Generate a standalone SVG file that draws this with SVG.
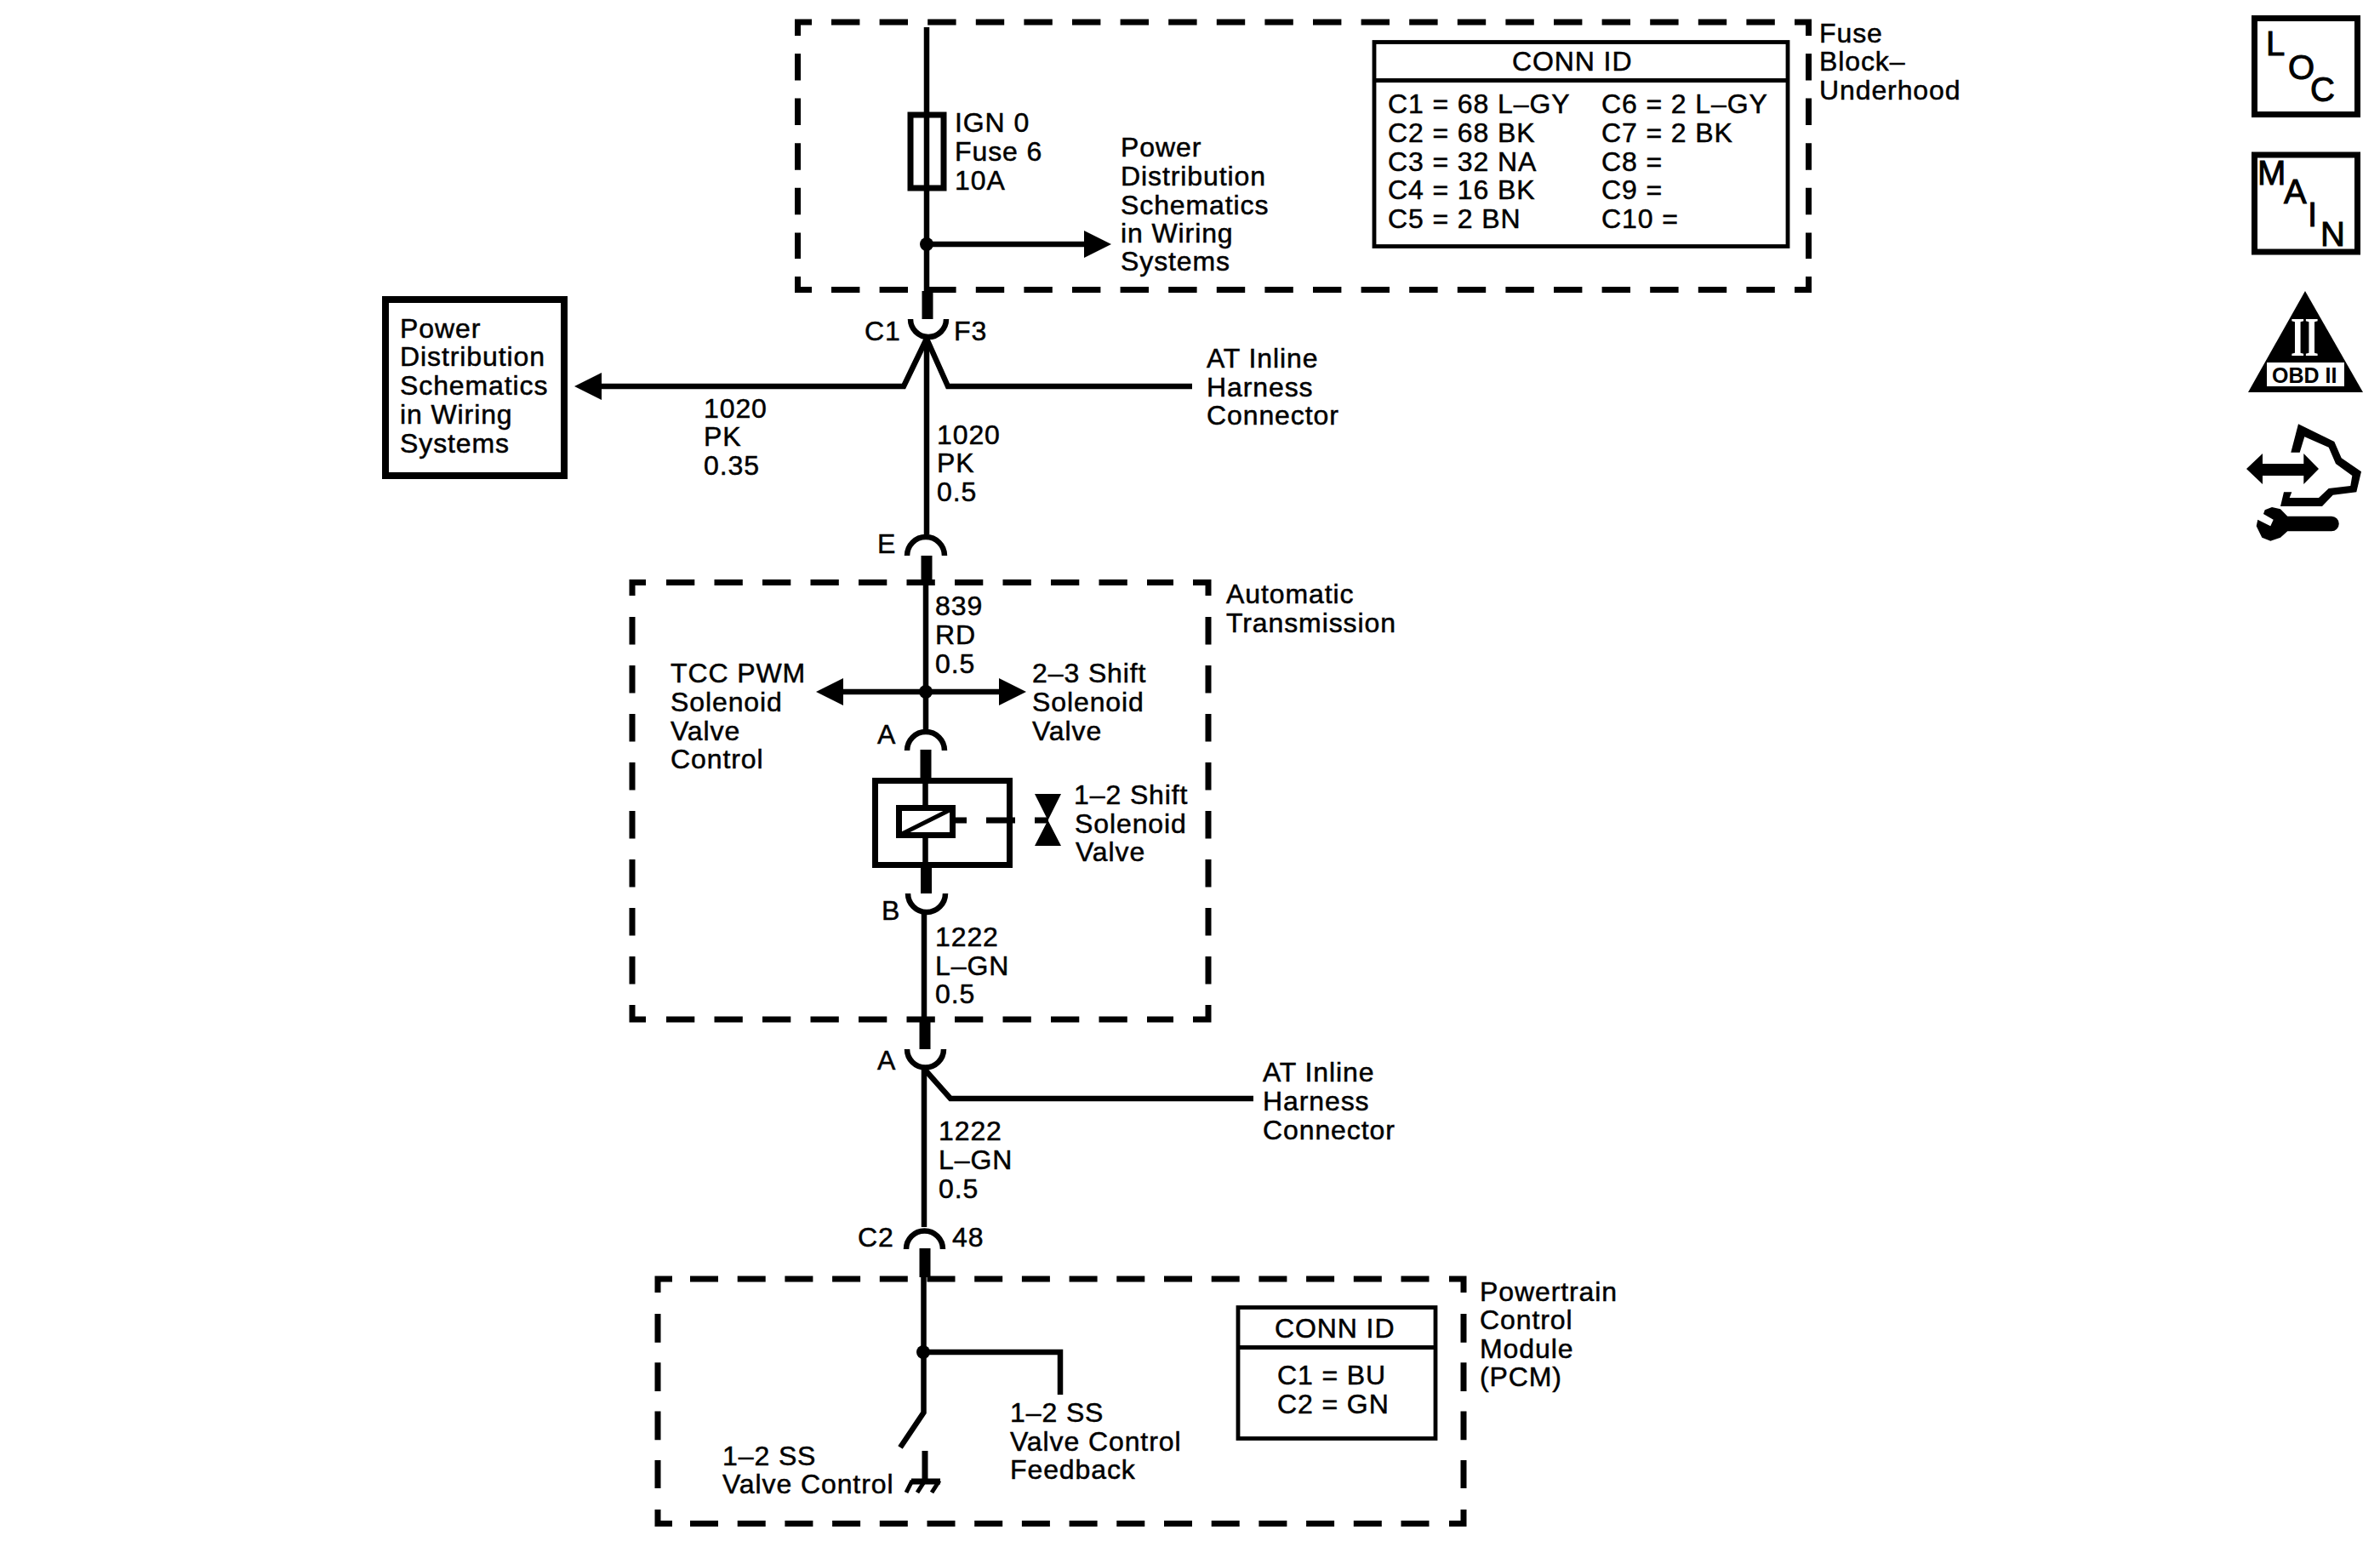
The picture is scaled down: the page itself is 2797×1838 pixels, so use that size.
<svg xmlns="http://www.w3.org/2000/svg" width="2797" height="1838" viewBox="0 0 2797 1838">
<style>
text{font-family:"Liberation Sans",Arial,sans-serif;font-size:32px;letter-spacing:.9px;fill:#000;stroke:#000;stroke-width:.5px;transform:translateX(-1px)}
.w{fill:none;stroke:#000;stroke-width:6.5}
.t{fill:none;stroke:#000;stroke-width:13}
.b{fill:none;stroke:#000;stroke-width:7}
.c{fill:none;stroke:#000;stroke-width:4.800}
.d{fill:none;stroke:#000;stroke-width:7}
.d1h{stroke-dasharray:33.4 23.2}
.d1v{stroke-dasharray:31.5 21.1}
.d2h{stroke-dasharray:33.3 23.2}
.d2v{stroke-dasharray:32.5 24.5}
.d3h{stroke-dasharray:33 22.7}
.d3v{stroke-dasharray:33.7 23.6}
.i{font-size:40px;letter-spacing:0;stroke-width:1px}
</style>
<defs>
<marker id="ah" markerUnits="userSpaceOnUse" markerWidth="33" markerHeight="34" refX="0" refY="17" orient="auto"><path d="M0 1L32 17L0 33Z" fill="#000"/></marker>
</defs>
<rect width="2797" height="1838" fill="#fff"/>
<g id="fuse-block">
<path class="d" d="M937.500 42V26H954"/><path class="d d1h" d="M977 26H2086"/><path class="d" d="M2109 26H2125.500V42"/>
<path class="d d1v" d="M937.500 63V304"/><path class="d d1v" d="M2125.500 63V304"/>
<path class="d" d="M937.500 325V340.500H954"/><path class="d d1h" d="M977 340.500H2086"/><path class="d" d="M2109 340.500H2125.500V325"/>
<text x="2139" y="50">Fuse</text><text x="2139" y="83">Block–</text><text x="2139" y="117">Underhood</text>
</g>
<g id="fuse"><rect class="b" x="1070" y="135" width="39" height="86"/>
<text x="1123" y="155">IGN 0</text><text x="1123" y="189">Fuse 6</text><text x="1123" y="223">10A</text></g>
<g id="power-ref-top"><text x="1318" y="184">Power</text><text x="1318" y="218">Distribution</text><text x="1318" y="252">Schematics</text><text x="1318" y="285">in Wiring</text><text x="1318" y="318">Systems</text></g>
<g id="conn-id-top"><rect class="c" x="1615" y="49.500" width="486" height="240"/><path class="c" d="M1615 94.500H2101"/>
<text x="1778" y="83">CONN ID</text>
<text x="1632" y="133">C1 = 68 L–GY</text><text x="1632" y="167">C2 = 68 BK</text><text x="1632" y="201">C3 = 32 NA</text><text x="1632" y="234">C4 = 16 BK</text><text x="1632" y="268">C5 = 2 BN</text>
<text x="1883" y="133">C6 = 2 L–GY</text><text x="1883" y="167">C7 = 2 BK</text><text x="1883" y="201">C8 =</text><text x="1883" y="234">C9 =</text><text x="1883" y="268">C10 =</text></g>
<g id="power-ref-left"><rect class="b" style="stroke-width:8" x="453" y="352" width="210" height="207"/>
<text x="471" y="397">Power</text><text x="471" y="430">Distribution</text><text x="471" y="464">Schematics</text><text x="471" y="498">in Wiring</text><text x="471" y="532">Systems</text></g>
<g id="inline-top"><path class="w" d="M1070 375A21 21 0 0 0 1112 375"/>
<text x="1017" y="400">C1</text><text x="1122" y="400">F3</text>
<text x="1419" y="432">AT Inline</text><text x="1419" y="466">Harness</text><text x="1419" y="499">Connector</text></g>
<g id="wire-labels"><text x="828" y="491">1020</text><text x="828" y="524">PK</text><text x="828" y="558">0.35</text>
<text x="1102" y="522">1020</text><text x="1102" y="555">PK</text><text x="1102" y="589">0.5</text></g>
<g id="splice-e"><path class="w" d="M1066 653A22 22 0 0 1 1110 653"/><text x="1032" y="650">E</text></g>
<g id="auto-trans">
<path class="d" d="M743 700V684.500H759"/><path class="d d2h" d="M783 684.500H1379"/><path class="d" d="M1402 684.500H1420V700"/>
<path class="d d2v" d="M743 725V1157"/><path class="d d2v" d="M1420 725V1157"/>
<path class="d" d="M743 1181V1198H759"/><path class="d d2h" d="M783 1198H1379"/><path class="d" d="M1402 1198H1420V1181"/>
<text x="1442" y="709">Automatic</text><text x="1442" y="743">Transmission</text>
<text x="1100" y="723">839</text><text x="1100" y="757">RD</text><text x="1100" y="791">0.5</text>
<text x="789" y="802">TCC PWM</text><text x="789" y="836">Solenoid</text><text x="789" y="870">Valve</text><text x="789" y="903">Control</text>
<text x="1214" y="802">2–3 Shift</text><text x="1214" y="836">Solenoid</text><text x="1214" y="870">Valve</text>
</g>
<g id="solenoid">
<path class="w" d="M1066 882A22 22 0 0 1 1110 882"/><text x="1032" y="874">A</text>
<rect class="b" x="1028.500" y="917.500" width="158" height="99"/>
<rect class="b" x="1056.500" y="949.500" width="63" height="32"/>
<path fill="none" stroke="#000" stroke-width="5" d="M1056 982L1120 950"/>
<path class="b" d="M1123 964H1136M1159 964H1193M1216 964H1232"/>
<path d="M1216 933H1247L1231.500 964L1247 994H1216L1231.500 964Z" fill="#000"/>
<path class="w" d="M1067 1050A22 22 0 0 0 1111 1050"/><text x="1037" y="1081">B</text>
<text x="1263" y="945">1–2 Shift</text><text x="1264" y="979">Solenoid</text><text x="1265" y="1012">Valve</text>
<text x="1100" y="1112">1222</text><text x="1100" y="1146">L–GN</text><text x="1100" y="1179">0.5</text>
</g>
<g id="inline-bottom"><path class="w" d="M1066 1233A21.500 21.500 0 0 0 1109 1233"/><text x="1032" y="1257">A</text>
<text x="1485" y="1271">AT Inline</text><text x="1485" y="1305">Harness</text><text x="1485" y="1339">Connector</text>
<text x="1104" y="1340">1222</text><text x="1104" y="1374">L–GN</text><text x="1104" y="1408">0.5</text></g>
<g id="pcm">
<path class="w" d="M1065 1468A21.500 21.500 0 0 1 1108 1468"/><text x="1009" y="1465">C2</text><text x="1120" y="1465">48</text>
<path class="d" d="M773 1519V1503H790"/><path class="d d3h" d="M811 1503H1680"/><path class="d" d="M1703 1503H1720V1519"/>
<path class="d d3v" d="M773 1544V1749"/><path class="d d3v" d="M1720 1544V1749"/>
<path class="d" d="M773 1774V1790.500H790"/><path class="d d3h" d="M811 1790.500H1680"/><path class="d" d="M1703 1790.500H1720V1774"/>
<text x="1740" y="1529">Powertrain</text><text x="1740" y="1562">Control</text><text x="1740" y="1596">Module</text><text x="1740" y="1629">(PCM)</text>
<rect class="c" x="1455" y="1536.500" width="232" height="154"/><path class="c" d="M1455 1583.500H1687"/>
<text x="1499" y="1572">CONN ID</text><text x="1502" y="1627">C1 = BU</text><text x="1502" y="1661">C2 = GN</text>
<text x="850" y="1722">1–2 SS</text><text x="850" y="1755">Valve Control</text>
<text x="1188" y="1671">1–2 SS</text><text x="1188" y="1705">Valve Control</text><text x="1188" y="1738">Feedback</text>
<path class="b" d="M1087 1705V1740"/><path class="b" d="M1071 1741H1105"/>
<path fill="none" stroke="#000" stroke-width="5" d="M1072 1740L1065 1754M1087 1740L1078 1754M1104 1740L1095 1754"/>
</g>
<g id="connectors">
<path class="w" d="M1089 32V342"/><path class="t" d="M1090 342V375"/><circle cx="1089" cy="287" r="8"/>
<path class="w" d="M1089 287H1274" marker-end="url(#ah)"/>
<path class="w" d="M1089 398V628"/>
<path class="w" d="M1089 398L1062 454H707" marker-end="url(#ah)"/>
<path class="w" d="M1089 398L1114 454H1401"/>
<path class="t" d="M1089 653V688"/>
<path class="w" d="M1088 688V857"/><circle cx="1088" cy="813" r="8"/>
<path class="w" d="M1088 813H991" marker-end="url(#ah)"/><path class="w" d="M1088 813H1174" marker-end="url(#ah)"/>
<path class="t" d="M1088 881V914"/><path class="w" d="M1087.500 914V949M1087.500 982V1020"/>
<path class="t" d="M1088.500 1020V1050"/><path class="w" d="M1086 1074V1198"/><path class="t" d="M1087 1198V1233"/>
<path class="w" d="M1086 1256V1442"/><path class="w" d="M1086 1256L1117 1291H1473"/>
<path class="t" d="M1087 1467V1501"/><path class="w" d="M1085.500 1501V1660L1058 1701"/>
<circle cx="1085" cy="1589" r="8"/><path class="w" d="M1085 1589H1246V1639"/>
</g>
<g id="icon-loc"><rect class="b" x="2649.500" y="21.500" width="121" height="113"/>
<text class="i" x="2664" y="65">L</text><text class="i" x="2690" y="93">O</text><text class="i" x="2716" y="119">C</text></g>
<g id="icon-main"><rect class="b" x="2649.500" y="182" width="121" height="114"/>
<text class="i" x="2654" y="217">M</text><text class="i" x="2685" y="239">A</text><text class="i" x="2713" y="266">I</text><text class="i" x="2728" y="289">N</text></g>
<g id="icon-obd"><path d="M2709 342L2777 461H2642Z" fill="#000"/><rect x="2664" y="426" width="91" height="28" fill="#fff"/>
<text x="2693" y="418" textLength="33" lengthAdjust="spacingAndGlyphs" style="font-family:'Liberation Serif',serif;font-weight:bold;font-size:66px;fill:#fff;stroke:none;letter-spacing:0">II</text>
<text x="2671" y="450" style="font-size:25px;letter-spacing:0;font-weight:bold;stroke:none">OBD II</text></g>
<g id="icon-service">
<path d="M2701 498.300L2743.300 519L2751.700 538.300L2775 554.300L2769.300 578.300L2741.700 581.700L2729 595H2680L2684 578.300H2693.300L2690.700 585H2725L2736.700 574L2762.300 571L2764.300 559L2745 545L2736.700 525.700L2708.300 513.300L2702.700 531.700H2692.300Z" fill="#000"/>
<path d="M2640 551L2659 533V545H2707.300V533L2725 551L2707.300 569V559H2659V569Z" fill="#000"/>
<path d="M2688.300 606.700H2740A8.800 8.800 0 0 1 2740 624.300H2688.300L2680 631.700L2668.300 635.700L2658.300 631.700L2651.700 618.300L2653.300 610.700L2668.300 618.300L2671.700 610.700L2660 604L2661.700 599.300L2670 596L2680 598.300Z" fill="#000"/>
</g>
</svg>
